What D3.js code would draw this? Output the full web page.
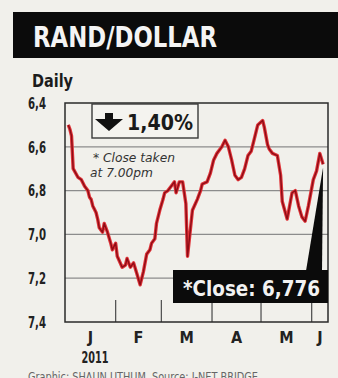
<!DOCTYPE html>
<html>
<head>
<meta charset="utf-8">
<script src="https://cdn.jsdelivr.net/npm/d3@7"></script>
<style>
    html, body { margin: 0; padding: 0; background: #f1f0eb; }
    svg { display: block; }
    .cond { font-family: 'Liberation Sans Narrow', 'DejaVu Sans Condensed', 'Arial Narrow', sans-serif; font-weight: bold; }
</style>
</head>
<body>
<svg id="chart" width="338" height="378"></svg>
<script>
// ------------------------------------------------------------
// Rand/Dollar daily close, Jan - Jun 2011
// ------------------------------------------------------------
const DATES = [
    '2011-01-03','2011-01-04','2011-01-05','2011-01-06','2011-01-09','2011-01-11','2011-01-13','2011-01-15',
    '2011-01-16','2011-01-17','2011-01-18','2011-01-20','2011-01-21','2011-01-22','2011-01-24','2011-01-25',
    '2011-01-27','2011-01-29','2011-01-30','2011-02-01','2011-02-02','2011-02-05','2011-02-07','2011-02-08',
    '2011-02-10','2011-02-12','2011-02-14','2011-02-16','2011-02-18','2011-02-20','2011-02-22','2011-02-23',
    '2011-02-25','2011-02-26','2011-02-28','2011-03-02','2011-03-03','2011-03-05','2011-03-07','2011-03-09',
    '2011-03-10','2011-03-12','2011-03-14','2011-03-16','2011-03-17','2011-03-19','2011-03-20','2011-03-23',
    '2011-03-25','2011-03-26','2011-03-29','2011-03-31','2011-04-02','2011-04-04','2011-04-07','2011-04-09',
    '2011-04-11','2011-04-13','2011-04-15','2011-04-17','2011-04-19','2011-04-21','2011-04-23','2011-04-25',
    '2011-04-27','2011-04-29','2011-05-02','2011-05-03','2011-05-05','2011-05-06','2011-05-08','2011-05-11',
    '2011-05-13','2011-05-14','2011-05-17','2011-05-19','2011-05-20','2011-05-22','2011-05-24','2011-05-26',
    '2011-05-28','2011-05-30','2011-06-02','2011-06-04','2011-06-06','2011-06-08'
];
const RATES = [
    6.50, 6.52, 6.55, 6.70, 6.74, 6.75, 6.78, 6.80,
    6.83, 6.84, 6.87, 6.90, 6.93, 6.97, 6.99, 6.95,
    6.99, 7.04, 7.07, 7.04, 7.10, 7.15, 7.14, 7.11,
    7.15, 7.13, 7.18, 7.23, 7.17, 7.09, 7.07, 7.04,
    7.02, 6.95, 6.89, 6.84, 6.81, 6.80, 6.78, 6.76,
    6.81, 6.76, 6.76, 6.86, 7.10, 6.96, 6.89, 6.84,
    6.80, 6.77, 6.76, 6.72, 6.66, 6.63, 6.60, 6.57,
    6.60, 6.66, 6.73, 6.75, 6.74, 6.70, 6.64, 6.62,
    6.56, 6.50, 6.48, 6.51, 6.59, 6.61, 6.63, 6.64,
    6.73, 6.85, 6.93, 6.85, 6.81, 6.80, 6.87, 6.92,
    6.94, 6.87, 6.75, 6.71, 6.63, 6.68
];
const Y_TICKS = [6.4, 6.6, 6.8, 7.0, 7.2, 7.4];
const MONTH_STARTS = ['2011-01-01','2011-02-01','2011-03-01','2011-04-01','2011-05-01','2011-06-01'];
const MONTH_LABELS = ['J', 'F', 'M', 'A', 'M', 'J'];
const YEAR_LABEL = '2011';
const TITLE = 'RAND/DOLLAR';
const SUBTITLE = 'Daily';
const CHANGE_LABEL = '1,40%';
const NOTE_LINES = ['* Close taken', 'at 7.00pm'];
const CLOSE_LABEL = '*Close: 6,776';
const CREDIT = 'Graphic: SHAUN UTHUM. Source: I-NET BRIDGE';

(function () {
    const parse = d3.timeParse('%Y-%m-%d');
    const fmt = d3.formatLocale({ decimal: ',', thousands: ' ', grouping: [3], currency: ['R', ''] }).format('.1f');

    const svg = d3.select('#chart');
    const box = { left: 65, right: 328, top: 103, bottom: 322 };

    const x = d3.scaleTime()
        .domain([parse('2011-01-01'), parse('2011-06-11')])
        .range([box.left, box.right]);
    const y = d3.scaleLinear()
        .domain([6.4, 7.4])
        .range([box.top, box.bottom]);

    const series = DATES.map(function (d, i) { return { date: parse(d), v: RATES[i] }; });

    // title banner
    svg.append('rect').attr('x', 13).attr('y', 12).attr('width', 325).attr('height', 46).attr('fill', '#0b0b0b');
    svg.append('text').attr('class', 'cond')
        .attr('x', 33).attr('y', 47)
        .attr('textLength', 184).attr('lengthAdjust', 'spacingAndGlyphs')
        .attr('font-size', 29).attr('fill', '#f4f4f4')
        .text(TITLE);

    svg.append('text').attr('class', 'cond')
        .attr('x', 32).attr('y', 87)
        .attr('textLength', 41).attr('lengthAdjust', 'spacingAndGlyphs')
        .attr('font-size', 18).attr('fill', '#1c1c1c')
        .text(SUBTITLE);

    // gridlines + y labels
    svg.append('g').selectAll('line').data(Y_TICKS.slice(1, -1)).enter().append('line')
        .attr('x1', box.left).attr('x2', box.right)
        .attr('y1', function (d) { return y(d); }).attr('y2', function (d) { return y(d); })
        .attr('stroke', '#8c8c8c').attr('stroke-width', 1.3);

    svg.append('g').selectAll('text').data(Y_TICKS).enter().append('text')
        .attr('class', 'cond')
        .attr('x', 28).attr('y', function (d) { return y(d); })
        .attr('dy', '0.36em')
        .attr('textLength', 18).attr('lengthAdjust', 'spacingAndGlyphs')
        .attr('font-size', 16).attr('fill', '#222')
        .text(function (d) { return fmt(d); });

    // month ticks and labels
    const starts = MONTH_STARTS.map(parse);
    svg.append('g').selectAll('line').data(starts.slice(1)).enter().append('line')
        .attr('x1', function (d) { return x(d); }).attr('x2', function (d) { return x(d); })
        .attr('y1', box.bottom).attr('y2', box.bottom - 22)
        .attr('stroke', '#555').attr('stroke-width', 1.3);

    svg.append('g').selectAll('text').data(starts).enter().append('text')
        .attr('class', 'cond')
        .attr('x', function (d, i) {
            const end = i < starts.length - 1 ? starts[i + 1] : x.domain()[1];
            return (x(d) + x(end)) / 2;
        })
        .attr('y', 343)
        .attr('text-anchor', 'middle')
        .attr('font-size', 16).attr('fill', '#222')
        .text(function (d, i) { return MONTH_LABELS[i]; });

    svg.append('text').attr('class', 'cond')
        .attr('x', 95).attr('y', 363)
        .attr('text-anchor', 'middle')
        .attr('textLength', 27).attr('lengthAdjust', 'spacingAndGlyphs')
        .attr('font-size', 16).attr('fill', '#222')
        .text(YEAR_LABEL);

    // plot frame
    svg.append('rect')
        .attr('x', box.left).attr('y', box.top)
        .attr('width', box.right - box.left).attr('height', box.bottom - box.top)
        .attr('fill', 'none').attr('stroke', '#2a2a2a').attr('stroke-width', 1.5);

    // change box
    svg.append('rect').attr('x', 92).attr('y', 104).attr('width', 106).attr('height', 34)
        .attr('fill', '#f4f3ef').attr('stroke', '#3a3a3a').attr('stroke-width', 1.4);
    svg.append('path')
        .attr('d', 'M105,113 L113,113 L113,119 L123,119 L109,131 L95,119 L105,119 Z')
        .attr('fill', '#111');
    svg.append('text').attr('class', 'cond')
        .attr('x', 127).attr('y', 130)
        .attr('textLength', 66).attr('lengthAdjust', 'spacingAndGlyphs')
        .attr('font-size', 21).attr('fill', '#1a1a1a')
        .text(CHANGE_LABEL);

    const noteLen = [82, 63];
    svg.append('g').selectAll('text').data(NOTE_LINES).enter().append('text')
        .attr('x', function (d, i) { return i === 0 ? 93 : 90; })
        .attr('y', function (d, i) { return 162 + i * 15; })
        .attr('textLength', function (d, i) { return noteLen[i]; })
        .attr('lengthAdjust', 'spacingAndGlyphs')
        .attr('font-family', "'Liberation Sans Narrow', 'DejaVu Sans Condensed', sans-serif")
        .attr('font-style', 'italic')
        .attr('font-size', 13).attr('fill', '#333')
        .text(function (d) { return d; });

    // rate line
    const line = d3.line()
        .x(function (d) { return x(d.date); })
        .y(function (d) { return y(d.v); });
    svg.append('path').datum(series)
        .attr('d', line).attr('fill', 'none')
        .attr('stroke', '#e0353a').attr('stroke-width', 3.4)
        .attr('stroke-linejoin', 'round');
    svg.append('path').datum(series)
        .attr('d', line).attr('fill', 'none')
        .attr('stroke', '#8e0c16').attr('stroke-width', 1.4)
        .attr('stroke-linejoin', 'round');

    // close callout
    const last = series[series.length - 1];
    svg.append('path')
        .attr('d', 'M' + x(last.date) + ',' + (y(last.v) + 3) + ' L322,271 L306,271 Z')
        .attr('fill', '#0b0b0b');
    svg.append('rect').attr('x', 173).attr('y', 270).attr('width', box.right - 173).attr('height', 33)
        .attr('fill', '#0b0b0b');
    svg.append('text').attr('class', 'cond')
        .attr('x', 183).attr('y', 296)
        .attr('textLength', 137).attr('lengthAdjust', 'spacingAndGlyphs')
        .attr('font-size', 21).attr('fill', '#f2f2f2')
        .text(CLOSE_LABEL);

    // credit line, cut by the bottom edge as in the print
    svg.append('text')
        .attr('x', 28).attr('y', 381)
        .attr('textLength', 230).attr('lengthAdjust', 'spacingAndGlyphs')
        .attr('font-family', "'Liberation Sans Narrow', 'DejaVu Sans Condensed', sans-serif")
        .attr('font-size', 12).attr('fill', '#666')
        .text(CREDIT);
})();
</script>
</body>
</html>
